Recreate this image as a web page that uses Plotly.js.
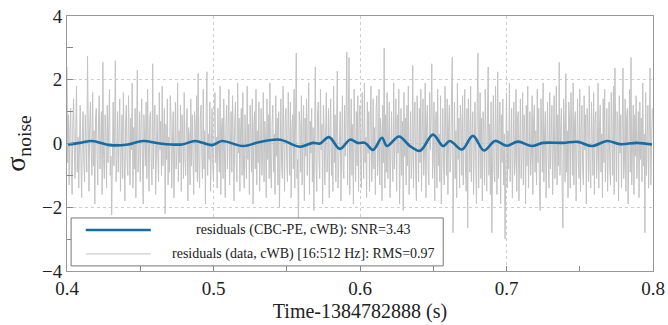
<!DOCTYPE html>
<html>
<head>
<meta charset="utf-8">
<script src="https://cdn.plot.ly/plotly-3.0.1.min.js"></script>
<style>html,body{margin:0;padding:0;background:#fff;}#chart{width:668px;height:325px;}</style>
</head>
<body>
<div id="chart"></div>
<script>
// ---- data ----
const noiseStart = 0.4;      // s after GPS 1384782888
const noiseStep = 0.0005;    // sample spacing (s)
const noiseValues = [
2.4,-0.6,0.9,-1.3,0.4,1.1,-0.8,-1.6,0.7,1.4,-0.3,-1.1,0.5,1.8,-0.9,0.2,-1.4,0.8,1.2,-0.5,
-1.7,0.3,1.0,-0.6,-1.2,0.9,0.1,-0.9,2.74,-0.4,-1.5,0.6,1.3,-0.2,-1.0,1.6,-0.7,0.4,-1.9,0.8,
1.1,-0.3,-1.3,0.7,1.5,-0.8,-0.2,1.0,-1.6,2.55,-0.5,-1.1,0.9,0.3,-1.4,1.2,-0.6,0.5,1.7,-1.0,
-0.4,-2.24,0.8,1.3,-0.7,0.2,2.6,-1.2,-0.5,1.0,-0.9,0.6,1.4,-1.5,0.1,0.9,-1.1,1.6,-0.3,-1.8,
0.7,1.2,-0.6,-1.0,1.5,0.4,-1.3,0.8,-0.2,1.9,-1.4,0.5,-0.8,1.1,-1.7,0.3,2.3,-0.9,-0.4,1.0,
-1.2,0.6,1.4,-0.5,-1.9,0.9,0.2,-0.7,1.3,-1.1,1.7,-0.3,-1.5,0.8,1.0,-0.6,-1.3,2.5,-0.8,0.4,
1.2,-1.6,0.5,0.9,-0.4,-1.2,1.6,-0.2,0.7,-1.0,1.8,-0.7,0.3,1.1,-2.2,0.6,-0.5,1.4,-1.3,0.2,
-0.9,1.5,0.8,-1.4,0.1,1.0,-1.7,0.6,1.3,-0.8,-0.3,1.9,-1.2,0.4,-0.6,1.2,-1.5,0.9,0.3,-1.1,
1.6,-0.4,-1.0,0.7,1.1,-1.8,0.5,0.2,-1.3,1.4,-0.7,0.9,-0.1,-1.6,1.0,0.6,-0.9,1.5,-1.2,2.2,
-0.6,-1.4,0.8,1.2,-0.3,-1.1,1.7,-0.8,0.4,-1.9,1.0,2.25,-1.0,0.3,-0.5,1.3,-1.5,0.7,1.1,-0.7,
-1.2,0.9,1.6,-0.6,0.2,-1.4,1.1,-0.2,-0.9,1.8,-1.6,0.5,0.8,-1.1,1.4,-0.4,-1.7,0.6,1.2,-0.8,
0.3,1.7,-1.3,-0.5,1.0,-0.9,1.5,0.1,-1.8,0.7,1.3,-0.6,-1.2,1.9,-0.3,0.8,-1.5,0.4,1.1,-1.0,
1.6,-0.7,-1.4,0.9,0.2,-1.1,1.8,-0.5,0.6,-1.6,1.2,-0.2,-0.9,1.4,-1.9,0.5,1.0,-0.8,1.7,-1.3,
0.4,-0.6,1.3,-1.5,0.8,1.1,-1.0,-0.3,1.6,-1.2,0.7,0.2,-1.7,1.4,-0.5,0.9,-1.1,1.9,-0.8,-1.4,
0.6,1.2,-0.9,0.3,-1.6,1.5,-0.4,0.8,-1.3,1.0,-2.0,0.7,1.4,-0.7,-1.1,1.8,-0.2,-1.5,0.9,1.1,
-0.6,-1.2,1.6,0.4,-1.0,1.3,-1.7,0.5,0.9,-0.8,1.7,-1.4,0.2,2.84,-1.1,-0.5,-2.9,1.0,0.6,-0.9,
1.5,-1.3,0.3,1.2,-1.8,0.8,-0.4,1.4,-1.0,0.1,1.9,-1.6,0.7,-0.3,1.1,-1.2,0.5,-2.1,1.0,2.4,
-0.7,-1.5,0.9,1.3,-0.5,-1.1,1.7,-0.2,0.6,-1.9,1.2,0.4,-1.3,0.8,1.6,-0.9,-0.4,1.1,-1.7,0.5,
1.4,-1.0,0.2,-1.5,1.8,-0.6,0.9,-1.2,1.3,2.27,-1.4,-0.3,0.7,1.0,-1.8,0.5,1.5,-0.8,-1.1,1.2,
-0.4,0.9,2.87,-1.3,1.1,2.7,-1.6,-0.5,1.4,-1.0,0.6,-1.9,1.7,0.3,-1.2,1.0,-0.7,1.5,-1.5,0.8,
1.2,-0.9,-1.4,1.6,0.4,-1.1,1.9,-0.6,0.2,-1.7,1.3,-0.3,1.0,-1.5,0.7,1.8,-1.2,-0.5,1.4,-0.8,
0.5,-1.6,1.1,1.5,-1.0,-0.4,1.7,-1.3,0.8,0.3,-1.8,1.2,-0.6,3.0,-1.4,0.9,-0.9,1.6,-1.1,0.4,
1.3,-1.7,0.6,1.0,-0.5,-1.2,1.9,-0.8,0.2,1.4,-1.5,0.9,-0.3,1.7,-1.9,0.5,1.1,-1.0,0.7,-2.1,
1.6,-0.4,0.8,-1.3,1.2,-0.7,1.8,-1.6,0.3,1.0,-1.1,-0.5,2.45,-1.4,0.6,1.3,-0.9,-1.8,1.5,0.2,
-1.2,1.1,-0.6,1.7,-1.5,0.4,1.4,-1.0,-0.3,1.9,-1.7,0.7,1.2,-0.8,-1.3,1.6,-0.2,0.9,2.5,-1.1,
-0.5,1.3,-1.8,0.6,1.0,-1.4,1.7,-0.7,0.3,-1.2,1.5,-1.9,0.8,1.1,-0.6,-1.3,1.8,0.2,-1.0,1.4,
-1.6,0.5,1.2,-0.9,-0.4,1.6,2.7,-2.8,0.9,1.3,-1.1,0.4,-1.7,1.9,-0.5,0.8,-1.4,1.2,0.6,-1.0,
1.5,-1.3,0.2,1.7,-0.8,-1.5,1.1,-2.65,1.4,0.5,-0.9,1.8,-1.2,0.3,1.0,-1.6,0.7,1.3,-0.6,-1.9,
1.2,2.84,-1.4,-0.3,1.6,-1.1,0.8,-1.8,1.0,0.4,-1.3,1.7,-0.7,-1.5,0.9,2.4,-1.0,0.6,-1.6,1.3,
-2.8,0.7,1.5,-0.9,-1.2,1.8,-0.4,-1.6,2.25,-1.1,0.5,1.3,-1.9,0.9,-0.6,1.4,-1.3,0.3,-3.0,1.1,
1.6,-1.4,0.4,-0.8,1.9,-1.2,0.6,1.1,-1.7,0.2,1.3,-1.0,-0.5,1.7,-1.5,0.8,1.0,-1.8,0.5,1.4,
-1.1,-0.4,1.6,-1.3,0.9,0.3,-1.9,1.2,-0.7,1.8,-1.4,0.5,1.0,-1.0,-0.3,1.5,-1.6,0.7,1.2,-0.9,
0.4,-1.3,1.7,-0.6,1.1,-1.5,-2.1,1.4,0.6,-0.9,1.9,-1.2,0.3,1.0,-1.7,0.8,1.3,-0.5,-1.4,1.6,
-0.8,0.2,1.2,-1.6,0.7,1.5,-1.1,-0.4,1.8,-1.3,0.9,-0.7,2.55,-1.0,0.5,1.1,-1.5,-2.65,1.4,0.6,
-1.2,2.2,-0.9,0.4,-1.7,1.3,0.8,-1.4,1.6,-0.5,-1.0,1.9,-1.3,0.7,1.0,-1.8,0.3,1.4,-0.6,-1.1,
1.7,-1.5,0.5,1.2,-0.8,-1.3,1.5,-0.2,0.9,-1.9,1.1,0.6,-1.2,1.8,-0.7,-1.4,1.3,0.4,-1.0,1.6,
-1.6,0.8,1.0,-1.1,-0.3,1.9,-1.4,0.5,1.2,-0.9,0.3,-1.7,1.4,-0.6,1.7,-1.2,-0.4,1.1,-1.5,0.9,
1.3,-0.8,-1.3,1.6,0.2,-1.0,1.8,-1.6,2.37,-0.5,-1.2,1.0,0.7,-1.8,1.5,-0.3,0.9,-1.4,1.2,2.37,
-1.1,-0.6,1.4,-1.5,0.8,1.1,-1.9,0.5,1.7,-0.9,2.7,-1.3,0.4,1.2,-1.6,0.9,-0.4,1.5,-1.1,0.6,
1.0,-1.7,1.3,-0.5,0.8,-1.2,1.9,-0.7,0.3,-2.8,1.6,-1.0,0.5,1.2,-1.4,0.9,2.37,-1.3,0.7,1.1
];
const noiseTime = noiseValues.map((_, i) => noiseStart + i * noiseStep);

const cbcTime = [0.4007,0.409,0.417,0.4294,0.4416,0.4519,0.4635,0.4785,0.4874,0.499,0.5058,0.5201,0.5317,0.5454,0.559,0.5679,0.5727,0.5788,0.5863,0.5932,0.5986,0.6034,0.6089,0.615,0.6184,0.6266,0.6341,0.641,0.6498,0.6567,0.6614,0.6696,0.6771,0.6846,0.6922,0.7003,0.7078,0.7174,0.7249,0.7386,0.7488,0.7584,0.7686,0.7775,0.7891,0.7993];
const cbcValues = [-0.03,0.02,0.08,-0.05,-0.03,0.08,0.0,-0.03,0.08,-0.05,0.08,-0.08,0.05,0.12,-0.1,0.02,0.0,0.2,-0.17,0.12,0.02,0.02,-0.2,0.18,-0.08,0.22,-0.08,-0.23,0.28,-0.08,0.08,-0.19,0.24,-0.22,0.08,-0.07,0.06,-0.08,0.02,0.02,0.05,-0.08,0.08,-0.02,0.02,-0.03];

const legendLabels = ['residuals (CBC-PE, cWB): SNR=3.43', 'residuals (data, cWB) [16:512 Hz]: RMS=0.97'];
const xTickVals = [0.4, 0.5, 0.6, 0.7, 0.8];
const xTickText = ['0.4', '0.5', '0.6', '0.7', '0.8'];
const yTickVals = [-4, -2, 0, 2, 4];
const yTickText = ['\u22124', '\u22122', '0', '2', '4'];

const blue = '#166da6';
const gray = '#c3c3c3';
const serif = '"Liberation Serif", "DejaVu Serif", serif';

const traces = [
  {x: noiseTime, y: noiseValues, type: 'scatter', mode: 'lines', name: legendLabels[1],
   line: {color: gray, width: 1}, showlegend: false, hoverinfo: 'skip'},
  {x: cbcTime, y: cbcValues, type: 'scatter', mode: 'lines', name: legendLabels[0],
   line: {color: blue, width: 2.6, shape: 'spline', smoothing: 1}, showlegend: false}
];

// legend box geometry (paper coords)
const lgX0 = 0.007, lgX1 = 0.642, lgY0 = 0.02, lgY1 = 0.208;
const lgLineX0 = 0.032, lgLineX1 = 0.143;
const lgRowY = [0.161, 0.067];
const lgTextX = 0.403;

const layout = {
  width: 668, height: 325,
  margin: {l: 67, r: 15, t: 16, b: 54},
  paper_bgcolor: '#fff', plot_bgcolor: '#fff',
  font: {family: serif, color: '#222', size: 18},
  showlegend: false,
  xaxis: {
    range: [0.4, 0.8], tickmode: 'array', tickvals: xTickVals, ticktext: xTickText,
    ticks: 'inside', ticklen: 5, tickcolor: '#888', tickfont: {size: 19, family: serif, color: '#222'},
    showline: true, linecolor: '#999', linewidth: 1, mirror: true,
    showgrid: true, gridcolor: '#cdcdcd', griddash: 'dot', gridwidth: 1, zeroline: false,
    minor: {dtick: 0.05, ticks: 'inside', ticklen: 5, tickcolor: '#888', showgrid: false},
    title: {text: 'Time-1384782888 (s)', font: {size: 20, family: serif, color: '#222'}, standoff: 6}
  },
  yaxis: {
    range: [-4, 4], tickmode: 'array', tickvals: yTickVals, ticktext: yTickText,
    ticks: 'inside', ticklen: 5, tickcolor: '#888', tickfont: {size: 19, family: serif, color: '#222'},
    showline: true, linecolor: '#999', linewidth: 1, mirror: true,
    showgrid: true, gridcolor: '#cdcdcd', griddash: 'dot', gridwidth: 1, zeroline: false,
    minor: {dtick: 1, ticks: 'inside', ticklen: 6, tickcolor: '#888', showgrid: false},
    title: {text: '\u03c3<sub>noise</sub>', font: {size: 28, family: serif, color: '#222'}, standoff: 8}
  },
  shapes: [
    {type: 'rect', xref: 'paper', yref: 'paper', x0: lgX0, x1: lgX1, y0: lgY0, y1: lgY1,
     fillcolor: '#fff', line: {color: '#777', width: 1}, layer: 'above'},
    {type: 'line', xref: 'paper', yref: 'paper', x0: lgLineX0, x1: lgLineX1, y0: lgRowY[0], y1: lgRowY[0],
     line: {color: blue, width: 2.6}, layer: 'above'},
    {type: 'line', xref: 'paper', yref: 'paper', x0: lgLineX0, x1: lgLineX1, y0: lgRowY[1], y1: lgRowY[1],
     line: {color: gray, width: 1}, layer: 'above'}
  ],
  annotations: [
    {xref: 'paper', yref: 'paper', x: lgTextX, y: lgRowY[0], text: legendLabels[0], showarrow: false,
     xanchor: 'center', yanchor: 'middle', font: {size: 14, family: serif, color: '#222'}},
    {xref: 'paper', yref: 'paper', x: lgTextX, y: lgRowY[1], text: legendLabels[1], showarrow: false,
     xanchor: 'center', yanchor: 'middle', font: {size: 14, family: serif, color: '#222'}}
  ]
};

Plotly.newPlot('chart', traces, layout, {staticPlot: true, displayModeBar: false});
</script>
</body>
</html>
